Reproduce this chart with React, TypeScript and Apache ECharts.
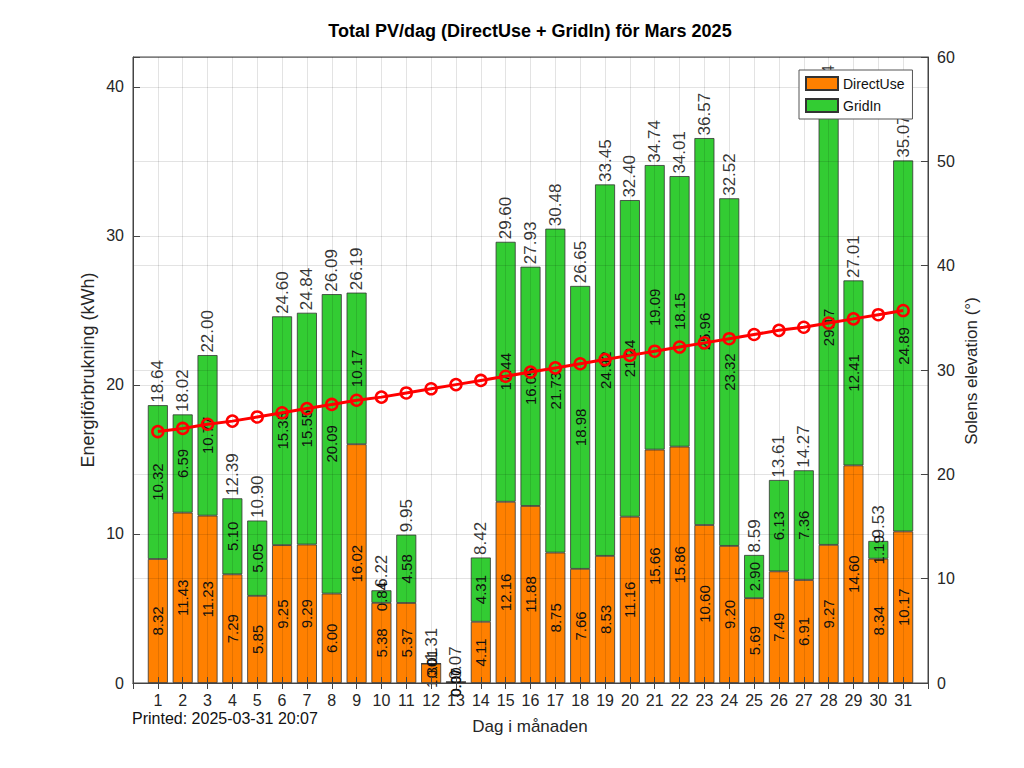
import React, { useEffect, useRef } from "react";
import * as echarts from "echarts";

const days = [1,2,3,4,5,6,7,8,9,10,11,12,13,14,15,16,17,18,19,20,21,22,23,24,25,26,27,28,29,30,31];
const directUse = [8.32,11.43,11.23,7.29,5.85,9.25,9.29,6.00,16.02,5.38,5.37,1.30,0.07,4.11,12.16,11.88,8.75,7.66,8.53,11.16,15.66,15.86,10.60,9.20,5.69,7.49,6.91,9.27,14.60,8.34,10.17];
const gridIn = [10.32,6.59,10.77,5.10,5.05,15.35,15.55,20.09,10.17,0.84,4.58,0.01,0.00,4.31,17.44,16.05,21.73,18.98,24.92,21.24,19.09,18.15,25.96,23.32,2.90,6.13,7.36,29.17,12.41,1.19,24.89];
const totals = [18.64,18.02,22.00,12.39,10.90,24.60,24.84,26.09,26.19,6.22,9.95,1.31,0.07,8.42,29.60,27.93,30.48,26.65,33.45,32.40,34.74,34.01,36.57,32.52,8.59,13.61,14.27,38.44,27.01,9.53,35.07];
const elevation = [24.1,24.4,24.8,25.1,25.5,25.9,26.3,26.7,27.1,27.4,27.8,28.2,28.6,29.0,29.4,29.8,30.2,30.6,31.0,31.4,31.8,32.2,32.6,33.0,33.4,33.8,34.1,34.5,34.9,35.3,35.7];

const titleText = "Total PV/dag (DirectUse + GridIn) för Mars 2025";
const leftName = "Energiförbrukning (kWh)";
const rightName = "Solens elevation (°)";
const xName = "Dag i månaden";
const printedText = "Printed: 2025-03-31 20:07";

const FONT = "'Liberation Sans', Arial, Helvetica, sans-serif";
const GRIDC = "rgba(0,0,0,0.11)";
const AXC = "#444";

// x axis runs from day 0 to day 32 (bars only on 1..31)
const xCats = ["0", ...days.map(String), "32"];
const pad = (arr: number[]) => [null, ...arr, null];

function txt(text: string, x: number, y: number, size: number, opts: any = {}) {
  return {
    type: "text",
    x,
    y,
    rotation: opts.rotation || 0,
    z: 20,
    style: {
      text,
      font: `${opts.bold ? "bold " : ""}${size}px ${FONT}`,
      fill: opts.color || "#222",
      textAlign: opts.align || "center",
      textVerticalAlign: "middle",
      align: opts.align || "center",
      verticalAlign: "middle",
    },
  };
}

export default function App() {
  const ref = useRef<HTMLDivElement>(null);
  useEffect(() => {
    if (!ref.current) return;
    const chart = echarts.init(ref.current, null, { renderer: "svg" });
    const fmt = (p: any) => {
      const v = Array.isArray(p.value) ? p.value[1] : p.value;
      return v == null ? "" : Number(v).toFixed(2);
    };
    const segLabel = {
      show: true,
      position: "inside",
      rotate: 90,
      fontSize: 15,
      fontFamily: FONT,
      color: "#111",
      formatter: fmt,
    };
    const xBase = {
      type: "category",
      data: xCats,
      boundaryGap: false,
      z: 3,
    };
    const option: any = {
      animation: false,
      backgroundColor: "#fff",
      textStyle: { fontFamily: FONT },
      grid: {
        left: 133,
        right: 96,
        top: 57,
        bottom: 85,
        show: true,
        borderColor: AXC,
        borderWidth: 1,
        backgroundColor: "transparent",
      },
      legend: {
        data: ["DirectUse", "GridIn"],
        orient: "vertical",
        left: 799,
        top: 70,
        icon: "rect",
        itemWidth: 32,
        itemHeight: 13,
        itemGap: 7,
        padding: [6, 8, 6, 6],
        backgroundColor: "#fff",
        borderColor: "#555",
        borderWidth: 1,
        borderRadius: 0,
        z: 10,
        textStyle: { fontSize: 14, color: "#111", fontFamily: FONT },
      },
      xAxis: [
        {
          ...xBase,
          axisLine: { show: true, lineStyle: { color: AXC } },
          axisTick: { show: true, inside: true, length: 6, interval: 0, lineStyle: { color: AXC } },
          axisLabel: {
            fontSize: 16,
            color: "#262626",
            margin: 9,
            interval: 0,
            formatter: (v: string) => (v === "0" || v === "32" ? "" : v),
          },
          splitLine: { show: true, interval: 0, lineStyle: { color: GRIDC } },
        },
        {
          ...xBase,
          position: "top",
          axisLine: { show: true, lineStyle: { color: AXC } },
          axisTick: { show: true, inside: true, length: 6, interval: 0, lineStyle: { color: AXC } },
          axisLabel: { show: false },
          splitLine: { show: false },
        },
      ],
      yAxis: [
        {
          type: "value",
          min: 0,
          max: 42,
          interval: 10,
          z: 3,
          axisLine: { show: true, lineStyle: { color: AXC } },
          axisTick: { show: true, inside: true, length: 7, lineStyle: { color: AXC } },
          axisLabel: {
            fontSize: 16,
            color: "#262626",
            margin: 9,
            formatter: (v: number) => (v % 10 === 0 ? String(v) : ""),
          },
          splitLine: { show: true, lineStyle: { color: GRIDC } },
        },
        {
          type: "value",
          min: 0,
          max: 60,
          interval: 10,
          z: 3,
          position: "right",
          axisLine: { show: true, lineStyle: { color: AXC } },
          axisTick: { show: true, inside: true, length: 7, lineStyle: { color: AXC } },
          axisLabel: { fontSize: 16, color: "#262626", margin: 9 },
          splitLine: { show: true, lineStyle: { color: GRIDC } },
        },
      ],
      series: [
        {
          name: "DirectUse",
          type: "bar",
          stack: "pv",
          barWidth: 20,
          z: 2,
          itemStyle: { color: "#ff8000", borderColor: "#333", borderWidth: 0.8 },
          label: segLabel,
          data: pad(directUse),
        },
        {
          name: "GridIn",
          type: "bar",
          stack: "pv",
          barWidth: 20,
          z: 2,
          itemStyle: { color: "#33cc33", borderColor: "#333", borderWidth: 0.8 },
          label: segLabel,
          data: pad(gridIn),
        },
        {
          name: "Total",
          type: "scatter",
          symbolSize: 1,
          silent: true,
          z: 2,
          itemStyle: { color: "rgba(0,0,0,0)" },
          label: {
            show: true,
            position: "top",
            distance: 2,
            rotate: 90,
            align: "left",
            verticalAlign: "middle",
            fontSize: 17,
            fontFamily: FONT,
            color: "#000",
            formatter: fmt,
          },
          data: days.map((d, i) => [d, totals[i]]),
        },
        {
          name: "Elevation",
          type: "line",
          yAxisIndex: 1,
          z: 5,
          symbol: "circle",
          symbolSize: 11,
          lineStyle: { color: "#ff0000", width: 3 },
          itemStyle: { color: "rgba(255,0,0,0)", borderColor: "#ff0000", borderWidth: 2.5 },
          data: days.map((d, i) => [d, elevation[i]]),
        },
      ],
      graphic: [
        txt(titleText, 530, 31, 18, { bold: true, color: "#000" }),
        txt(leftName, 88, 370, 18, { rotation: Math.PI / 2, color: "#262626" }),
        txt(rightName, 971, 371, 17, { rotation: Math.PI / 2, color: "#262626" }),
        txt(xName, 530, 726, 17, { color: "#262626" }),
        txt(printedText, 132, 718, 16, { align: "left", color: "#111" }),
      ],
    };
    chart.setOption(option);
    return () => chart.dispose();
  }, []);
  return (
    <div
      ref={ref}
      style={{ position: "absolute", left: 0, top: 0, width: 1024, height: 768 }}
    />
  );
}
